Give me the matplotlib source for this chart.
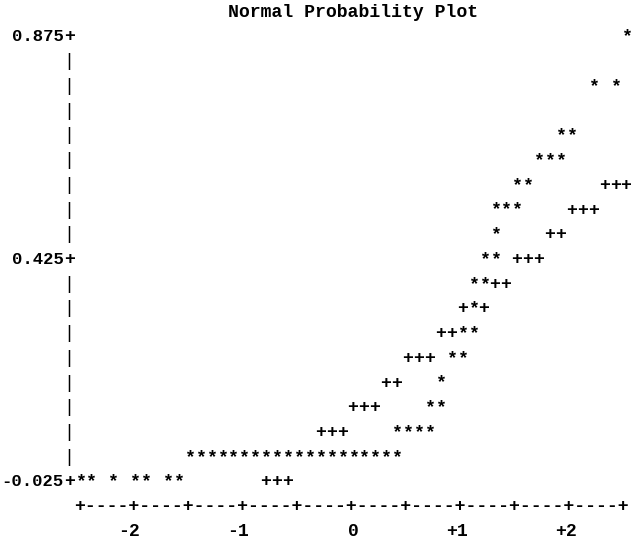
import matplotlib.pyplot as plt

# line-printer style normal probability plot (rows are 0.05 apart, columns 0.1 apart)
row_values = [0.875, 0.775, 0.675, 0.625, 0.575, 0.525, 0.475, 0.425, 0.375,
              0.325, 0.275, 0.225, 0.175, 0.125, 0.075, 0.025, -0.025]
star_q = [
    [2.5],
    [2.2, 2.4],
    [1.9, 2.0],
    [1.7, 1.8, 1.9],
    [1.5, 1.6],
    [1.3, 1.4, 1.5],
    [1.3],
    [1.2, 1.3],
    [1.1, 1.2],
    [1.1],
    [1.0, 1.1],
    [0.9, 1.0],
    [0.8],
    [0.7, 0.8],
    [0.4, 0.5, 0.6, 0.7],
    [-1.5, -1.4, -1.3, -1.2, -1.1, -1.0, -0.9, -0.8, -0.7, -0.6,
     -0.5, -0.4, -0.3, -0.2, -0.1, 0.0, 0.1, 0.2, 0.3, 0.4],
    [-2.5, -2.4, -2.2, -2.0, -1.9, -1.7, -1.6],
]

ref_values = [0.575, 0.525, 0.475, 0.425, 0.375, 0.325, 0.275, 0.225,
              0.175, 0.125, 0.075, -0.025]
ref_q = [
    [2.3, 2.4, 2.5],
    [2.0, 2.1, 2.2],
    [1.8, 1.9],
    [1.5, 1.6, 1.7],
    [1.3, 1.4],
    [1.0, 1.2],
    [0.8, 0.9],
    [0.5, 0.6, 0.7],
    [0.3, 0.4],
    [0.0, 0.1, 0.2],
    [-0.3, -0.2, -0.1],
    [-0.8, -0.7, -0.6],
]

y_labels = ["0.875", "0.425", "-0.025"]
y_label_values = [0.875, 0.425, -0.025]
x_ticks = [-2, -1, 0, 1, 2]
x_tick_labels = ["-2", "-1", "0", "+1", "+2"]
title = "Normal Probability Plot"

dx = 0.1
dy = 0.05
xmin, xmax = -2.5, 2.5
ymin, ymax = -0.025, 0.875

font = dict(family="Liberation Mono", fontsize=13.1, fontweight="bold", color="black")

fig = plt.figure(figsize=(6.31, 5.41), dpi=100)
ax = fig.add_axes([0, 0, 1, 1])
ax.set_xlim(-3.2326, 2.5458)
ax.set_ylim(-0.1444, 0.9498)
ax.axis("off")

# reference line first, observations on top
for v, qs in zip(ref_values, ref_q):
    for q in qs:
        ax.text(q, v, "+", ha="center", va="center", **font)
for v, qs in zip(row_values, star_q):
    for q in qs:
        ax.text(q, v, "*", ha="center", va="center", **font)

# vertical axis
axis_x = xmin - dx
n_rows = int(round((ymax - ymin) / dy)) + 1
for i in range(n_rows):
    v = ymax - i * dy
    if any(abs(v - lv) < 1e-9 for lv in y_label_values):
        ax.text(axis_x, v, "+", ha="center", va="center", **font)
    else:
        ax.text(axis_x, v, "|", ha="center", va="center", family="Liberation Mono",
                fontsize=13.1, color="black")
for lab, v in zip(y_labels, y_label_values):
    ax.text(axis_x - dx / 2, v, lab, ha="right", va="center",
            family="Liberation Mono", fontsize=12.4, fontweight="bold", color="black")

# horizontal axis
n_cols = int(round((xmax - xmin) / dx)) + 1
axis_line = "".join("+" if i % 5 == 0 else "-" for i in range(n_cols))
ax.text(xmin - dx / 2, ymin - dy, axis_line, ha="left", va="center", **font)
for t, lab in zip(x_ticks, x_tick_labels):
    ax.text(t + dx / 2, ymin - 2 * dy, lab, ha="right", va="center", **font)

ax.text(0, ymax + dy, title, ha="center", va="center", **font)

fig.savefig("out.png", dpi=100)
